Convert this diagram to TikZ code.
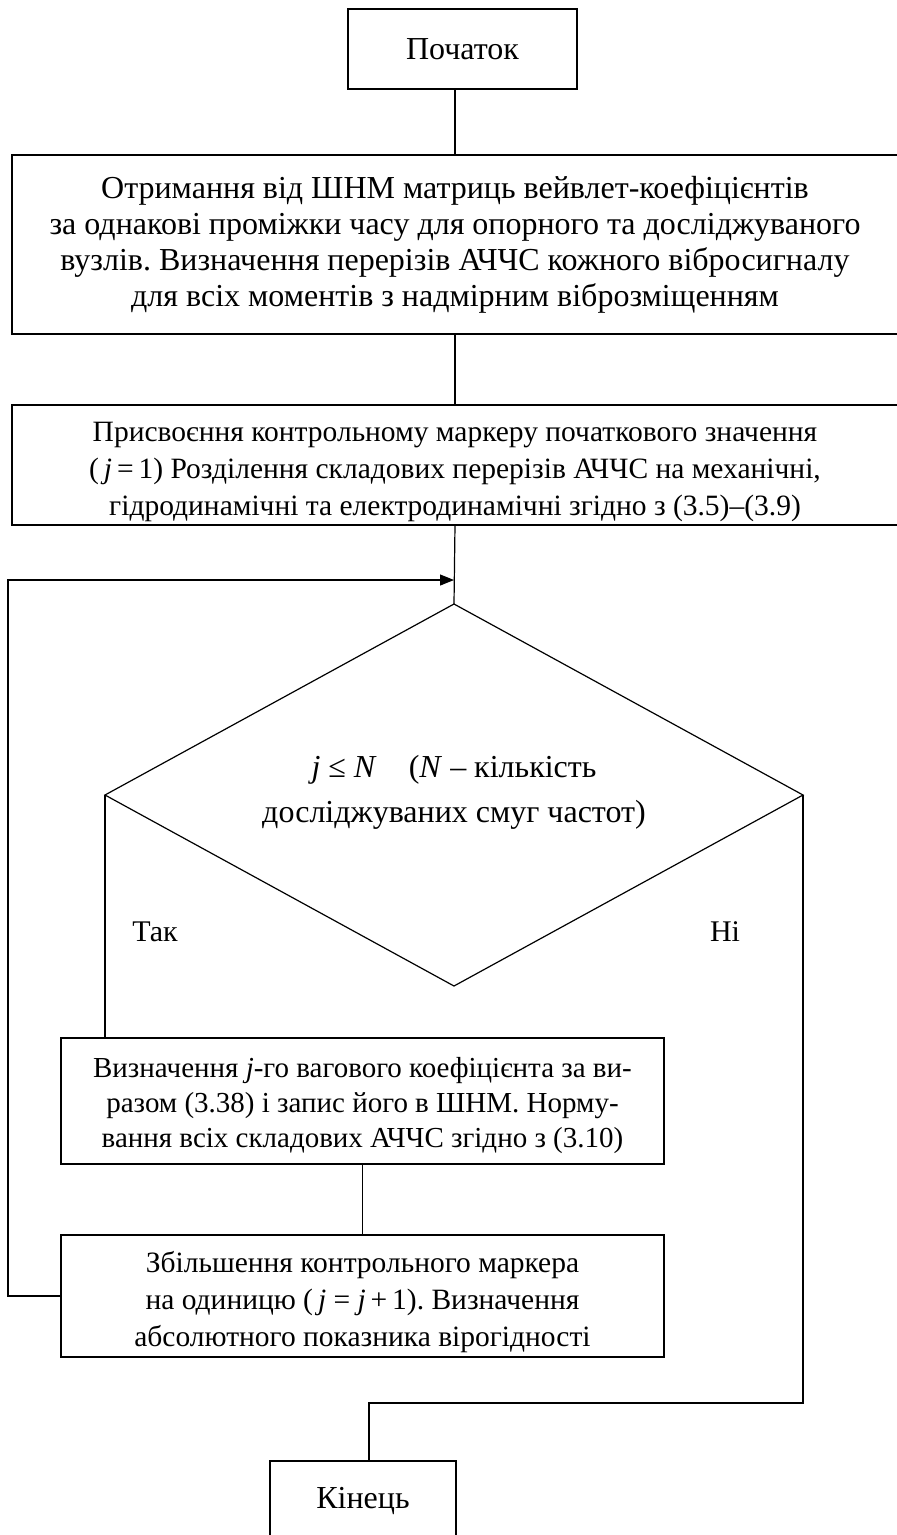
\documentclass[tikz,border=0pt]{standalone}
\usepackage{fontspec}
\setmainfont{Liberation Serif}
\usetikzlibrary{arrows.meta}
\usetikzlibrary{shapes.geometric}
\frenchspacing

\begin{document}
\begin{tikzpicture}[x=1pt, y=-1pt,
        blk/.style={draw, line width=1.6pt, align=center, inner sep=0pt, outer sep=0pt,
            font=\fontsize{32}{36}\selectfont},
        txt/.style={align=center, inner sep=0pt, font=\fontsize{29.5}{37}\selectfont},
        wire/.style={draw, line width=1.2pt},
        lbl/.style={align=center, font=\fontsize{32}{45}\selectfont}]
        \clip (0,0) rectangle (897,1535);
        \node[blk, minimum width=229, minimum height=80] (S) at (462.5,49) {Початок};
        \node[blk, minimum width=886, minimum height=179] (B2) at (455,244.5)
            {Отримання від ШНМ матриць вейвлет-коефіцієнтів\\
            за однакові проміжки часу для опорного та досліджуваного\\
            вузлів. Визначення перерізів АЧЧС кожного вібросигналу\\
            для всіх моментів з надмірним віброзміщенням};
        \node[blk, minimum width=886, minimum height=120] (B3) at (455,465) {};
        \node[txt] (B3t) at (455,472)
            {Присвоєння контрольному маркеру початкового значення\\
            (\,\textit{j}\,=\,1) Розділення складових перерізів АЧЧС на механічні,\\
            гідродинамічні та електродинамічні згідно з (3.5)–(3.9)};
        \node[diamond, draw, line width=1.2pt, inner sep=0pt, outer sep=0pt,
            minimum width=698, minimum height=382] (D) at (454,795) {};
        \node[lbl] (T) at (454,792)
            {\textit{j} ≤ \textit{N}\quad(\textit{N} – кількість\\досліджуваних смуг частот)};
        \node[lbl, font=\fontsize{30}{36}\selectfont] (yes) at (155,932) {Так};
        \node[lbl, font=\fontsize{30}{36}\selectfont] (no) at (725,932) {Ні};
        \node[blk, minimum width=603, minimum height=126] (V) at (362.5,1101) {};
        \node[txt, font=\fontsize{29}{35}\selectfont] (Vt) at (362.5,1106)
            {Визначення \textit{j}-го вагового коефіцієнта за ви-\\
            разом (3.38) і запис його в ШНМ. Норму-\\
            вання всіх складових АЧЧС згідно з (3.10)};
        \node[blk, minimum width=603, minimum height=122] (Z) at (362.5,1296) {};
        \node[txt] (Zt) at (362.5,1302)
            {Збільшення контрольного маркера\\
            на одиницю (\,\textit{j} = \textit{j}\,+\,1). Визначення\\
            абсолютного показника вірогідності};
        \node[blk, minimum width=186, minimum height=80] (K) at (363,1501) {Кінець};
        \coordinate (loop) at (8,580);
        \coordinate (turn) at (369,1403);
        \draw[wire] (S.south -| B2.north) -- (B2.north);
        \draw[wire] (B2.south) -- (B3.north);
        \draw[wire] (B3.south) -- (D.north);
        \draw[wire, -{Triangle[length=14pt,width=11pt]}] (Z.west) -- (Z.west -| loop)
            -- (loop) -- (loop -| D.north);
        \draw[wire] (D.west) -- (D.west |- V.north);
        \draw[wire] (V.south) -- (Z.north);
        \draw[wire] (D.east) -- (D.east |- turn) -- (turn) -- (turn |- K.north);
\end{tikzpicture}
\end{document}
